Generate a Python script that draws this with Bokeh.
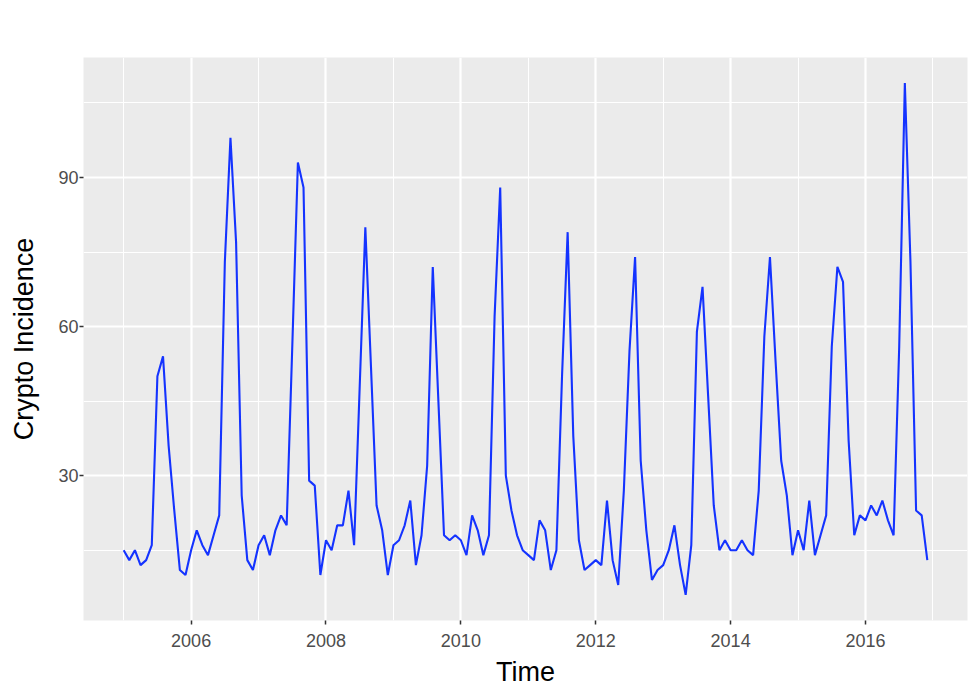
from bokeh.plotting import figure
from bokeh.models import Range1d, FixedTicker
from bokeh.embed import file_html
from bokeh.resources import INLINE

# Monthly cryptosporidiosis incidence, Jan 2005 - Dec 2016
start_year = 2005
freq = 12
y2005 = [15, 13, 15, 12, 13, 16, 50, 54, 36, 23, 11, 10]
y2006 = [15, 19, 16, 14, 18, 22, 73, 98, 77, 26, 13, 11]
y2007 = [16, 18, 14, 19, 22, 20, 56, 93, 88, 29, 28, 10]
y2008 = [17, 15, 20, 20, 27, 16, 48, 80, 52, 24, 19, 10]
y2009 = [16, 17, 20, 25, 12, 18, 32, 72, 45, 18, 17, 18]
y2010 = [17, 14, 22, 19, 14, 18, 62, 88, 30, 23, 18, 15]
y2011 = [14, 13, 21, 19, 11, 15, 50, 79, 38, 17, 11, 12]
y2012 = [13, 12, 25, 13, 8, 27, 55, 74, 33, 19, 9, 11]
y2013 = [12, 15, 20, 12, 6, 16, 59, 68, 46, 24, 15, 17]
y2014 = [15, 15, 17, 15, 14, 27, 58, 74, 53, 33, 26, 14]
y2015 = [19, 15, 25, 14, 18, 22, 56, 72, 69, 37, 18, 22]
y2016 = [21, 24, 22, 25, 21, 18, 56, 109, 73, 23, 22, 13]

x_major = [2006, 2008, 2010, 2012, 2014, 2016]
x_minor = [2005, 2007, 2009, 2011, 2013, 2015, 2017]
y_major = [30, 60, 90]
y_minor = [15, 45, 75, 105]

values = (y2005 + y2006 + y2007 + y2008 + y2009 + y2010 +
          y2011 + y2012 + y2013 + y2014 + y2015 + y2016)
t = [start_year + i / freq for i in range(len(values))]

# ggplot-style 5% expansion
xmin, xmax = min(t), max(t)
ymin, ymax = min(values), max(values)
xpad = (xmax - xmin) * 0.05
ypad = (ymax - ymin) * 0.05

p = figure(frame_width=884, frame_height=563,
           output_backend="svg", toolbar_location=None,
           x_range=Range1d(xmin - xpad, xmax + xpad),
           y_range=Range1d(ymin - ypad, ymax + ypad),
           min_border_left=83, min_border_right=4,
           min_border_top=57, min_border_bottom=76)

p.line(t, values, line_color="#1433FF", line_width=2.1)

p.background_fill_color = "#EBEBEB"
p.border_fill_color = "white"
p.outline_line_color = None

p.xaxis.ticker = FixedTicker(ticks=x_major, minor_ticks=x_minor)
p.yaxis.ticker = FixedTicker(ticks=y_major, minor_ticks=y_minor)

for g in (p.xgrid, p.ygrid):
    g.grid_line_color = "white"
    g.grid_line_width = 2.2
    g.minor_grid_line_color = "white"
    g.minor_grid_line_width = 1.1

for ax in (p.xaxis, p.yaxis):
    ax.axis_line_color = None
    ax.major_tick_line_color = "#333333"
    ax.major_tick_line_width = 1.5
    ax.major_tick_out = 4
    ax.major_tick_in = 0
    ax.minor_tick_line_color = None
    ax.major_label_text_color = "#4D4D4D"
    ax.major_label_text_font = "Liberation Sans"
    ax.major_label_text_font_size = "18px"
    ax.axis_label_text_font = "Liberation Sans"
    ax.axis_label_text_font_size = "27px"
    ax.axis_label_text_font_style = "normal"
    ax.axis_label_text_color = "black"

p.xaxis.axis_label = "Time"
p.yaxis.axis_label = "Crypto Incidence"
p.xaxis.major_label_standoff = 9
p.yaxis.major_label_standoff = 1
p.xaxis.axis_label_standoff = 7
p.yaxis.axis_label_standoff = 16

open("out.html", "w").write(file_html(p, INLINE))
